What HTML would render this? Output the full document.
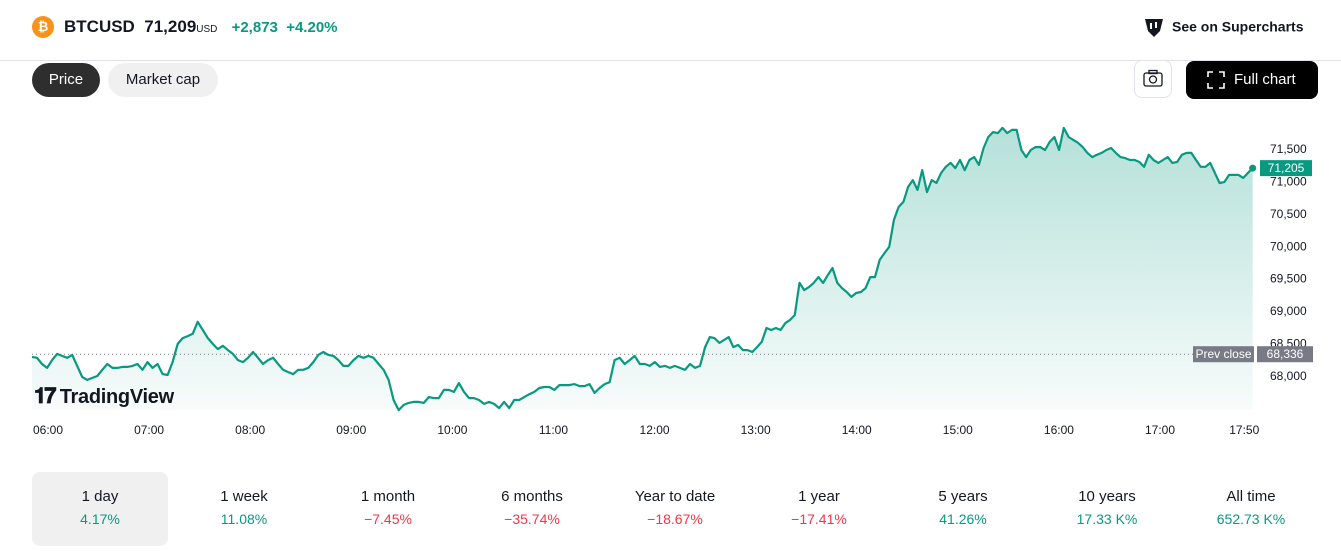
<!DOCTYPE html>
<html><head><meta charset="utf-8"><style>
body{margin:0;width:1341px;height:560px;background:#fff;font-family:"Liberation Sans",sans-serif;color:#131722;overflow:hidden;position:relative}
.a{position:absolute}
.tab{position:absolute;top:472px;width:136px;height:74px;border-radius:8px;text-align:center}
.tab .l{margin-top:16px;font-size:15px;color:#131722}
.tab .v{margin-top:6px;font-size:14px}
.g{color:#089981}.r{color:#f23645}
</style></head><body>
<div class="a" style="left:32px;top:16px;width:22px;height:22px;border-radius:50%;background:#f7931a;color:#fff;font-weight:bold;font-size:13px;text-align:center;line-height:22px">₿</div>
<div class="a" style="left:64px;top:17px;font-size:17px;font-weight:bold;white-space:nowrap">BTCUSD&nbsp; 71,209<span style="font-size:10px;font-weight:normal">USD</span>&nbsp;&nbsp; <span class="g" style="font-size:15px">+2,873&nbsp; +4.20%</span></div>
<div class="a" style="left:1142px;top:17px;font-size:14px;font-weight:bold;white-space:nowrap"><svg width="24" height="22" viewBox="0 0 24 22" style="vertical-align:middle;margin-right:6px"><path d="M3 2h18l-3 12-6 6-6-6z" fill="#131722"/><rect x="8" y="6" width="2" height="6" fill="#fff"/><rect x="13" y="5" width="2" height="6" fill="#fff"/></svg>See on Supercharts</div>
<div class="a" style="left:0;top:60px;width:1341px;height:1px;background:#e0e3eb"></div>
<div class="a" style="left:32px;top:63px;width:68px;height:34px;border-radius:17px;background:#2e2e2e;color:#fff;font-size:15px;text-align:center;line-height:34px">Price</div>
<div class="a" style="left:108px;top:63px;width:110px;height:34px;border-radius:17px;background:#f0f0f0;font-size:15px;text-align:center;line-height:34px">Market cap</div>
<div class="a" style="left:1134px;top:60px;width:38px;height:38px;border:1px solid #e0e3eb;border-radius:8px;box-sizing:border-box"><svg width="36" height="36" viewBox="0 0 36 36"><rect x="9" y="12" width="18" height="13" rx="2" fill="none" stroke="#131722" stroke-width="1.3"/><rect x="14" y="9.5" width="8" height="3" fill="none" stroke="#131722" stroke-width="1.3"/><circle cx="18" cy="18.5" r="3.5" fill="none" stroke="#131722" stroke-width="1.3"/></svg></div>
<div class="a" style="left:1186px;top:61px;width:132px;height:38px;border-radius:8px;background:#000;color:#fff;font-size:15px;line-height:38px;white-space:nowrap"><svg width="20" height="20" viewBox="0 0 20 20" style="vertical-align:middle;margin:0 8px 0 20px"><path d="M2 7V2h5M13 2h5v5M18 13v5h-5M7 18H2v-5" fill="none" stroke="#fff" stroke-width="1.6"/></svg>Full chart</div>

<svg id="chart" class="a" style="left:0;top:100px" width="1341" height="345">
<defs><linearGradient id="fg" x1="0" y1="0" x2="0" y2="1"><stop offset="0" stop-color="#089981" stop-opacity="0.3"/><stop offset="1" stop-color="#089981" stop-opacity="0.03"/></linearGradient></defs>
</svg>
<div class="a" style="left:34px;top:383px;font-size:20px;font-weight:bold;white-space:nowrap;letter-spacing:-0.3px"><span style="font-size:22px;letter-spacing:-2px">𝟏𝟕</span> TradingView</div>

<div class="tab" style="left:32px;background:#f0f0f0"><div class="l">1 day</div><div class="v g">4.17%</div></div>
<div class="tab" style="left:176px"><div class="l">1 week</div><div class="v g">11.08%</div></div>
<div class="tab" style="left:320px"><div class="l">1 month</div><div class="v r">−7.45%</div></div>
<div class="tab" style="left:464px"><div class="l">6 months</div><div class="v r">−35.74%</div></div>
<div class="tab" style="left:607px"><div class="l">Year to date</div><div class="v r">−18.67%</div></div>
<div class="tab" style="left:751px"><div class="l">1 year</div><div class="v r">−17.41%</div></div>
<div class="tab" style="left:895px"><div class="l">5 years</div><div class="v g">41.26%</div></div>
<div class="tab" style="left:1039px"><div class="l">10 years</div><div class="v g">17.33 K%</div></div>
<div class="tab" style="left:1183px"><div class="l">All time</div><div class="v g">652.73 K%</div></div>

<script>
// morning segment 05:50 -> 12:27, afternoon segment 12:30 -> 17:55 (uniform sampling within each)
const pricesAM=[68295,68280,68185,68125,68245,68340,68310,68280,68325,68155,67985,67940,67970,68000,68095,68185,68125,68125,68140,68140,68155,68185,68095,68215,68125,68185,68030,68015,68215,68495,68585,68615,68650,68835,68710,68585,68495,68415,68465,68400,68340,68245,68215,68280,68370,68280,68185,68245,68280,68185,68095,68060,68030,68095,68095,68125,68215,68325,68370,68325,68310,68245,68155,68155,68245,68310,68280,68310,68280,68185,68095,67940,67630,67475,67555,67585,67600,67600,67585,67675,67660,67660,67785,67785,67755,67890,67755,67660,67660,67630,67570,67600,67570,67505,67600,67505,67630,67630,67675,67720,67755,67815,67830,67830,67785,67860,67860,67860,67875,67845,67845,67875,67740,67815,67875,67905,68245,68280,68185,68245,68310,68185,68185,68155,68215,68140,68155,68125,68155,68125,68095,68185,68125,68155];
const pricesPM=[68445,68600,68585,68510,68555,68600,68445,68480,68400,68400,68370,68445,68525,68740,68710,68740,68710,68815,68865,68940,69435,69325,69370,69435,69525,69435,69555,69665,69435,69355,69295,69220,69280,69295,69355,69525,69525,69790,69895,69990,70405,70605,70685,70915,71020,70870,71175,70835,71020,70975,71130,71225,71285,71205,71330,71175,71330,71375,71255,71515,71685,71760,71745,71825,71745,71795,71795,71485,71375,71485,71530,71530,71485,71610,71685,71485,71825,71685,71640,71595,71530,71440,71375,71410,71440,71485,71515,71440,71375,71360,71330,71330,71300,71225,71410,71330,71285,71330,71375,71285,71300,71410,71440,71440,71330,71225,71225,71285,71130,70975,70990,71100,71100,71100,71055,71130,71205];
const segAM=[-9.5,387], segPM=[390,715]; // minutes from 06:00
const yTicks=[68000,68500,69000,69500,70000,70500,71000,71500];
const xTickLabels=["06:00","07:00","08:00","09:00","10:00","11:00","12:00","13:00","14:00","15:00","16:00","17:00","17:50"];
const xTickMins=[0,60,120,180,240,300,360,420,480,540,600,660,710];
const prevClose=68336, lastPrice=71205;

const svg=document.getElementById('chart'),NS='http://www.w3.org/2000/svg',OY=100;
const X=m=>48+(m)*(1112/660);
const Y=p=>376-OY-(p-68000)*(227/3500);
function el(t,a){const e=document.createElementNS(NS,t);for(const k in a)e.setAttribute(k,a[k]);svg.appendChild(e);return e;}
const bottom=410-OY;
function seg(arr,s){return arr.map((p,i)=>[X(s[0]+(s[1]-s[0])*i/(arr.length-1)),Y(p)]);}
const pts=seg(pricesAM,segAM).concat(seg(pricesPM,segPM));
const n=pts.length;
let d=pts.map((q,i)=>(i?'L':'M')+q[0].toFixed(1)+' '+q[1].toFixed(1)).join('');
const area=el('path',{d:d+`L${pts[n-1][0]} ${bottom}L${pts[0][0]} ${bottom}Z`,fill:'url(#fg)'});


const pc=el('line',{x1:32,x2:1193,y1:Y(prevClose),y2:Y(prevClose),stroke:'#787b86','stroke-dasharray':'1 3','stroke-width':1});


const line=el('path',{d:d,fill:'none',stroke:'#089981','stroke-width':2.2,'stroke-linejoin':'round'});


const dot=el('circle',{cx:pts[n-1][0],cy:pts[n-1][1],r:3.5,fill:'#089981'});


yTicks.forEach(v=>{const t=el('text',{x:1270,y:Y(v)+4,'font-size':12,fill:'#131722','font-family':'Liberation Sans'});t.textContent=v.toLocaleString('en-US');

});
xTickLabels.forEach((s,i)=>{const t=el('text',{x:X(xTickMins[i]),y:434-OY,'font-size':12,fill:'#131722','text-anchor':'middle','font-family':'Liberation Sans'});t.textContent=s;

});
function tag(x,y,w,fill,txt,name){const g=el('g',{});
const r=document.createElementNS(NS,'rect');r.setAttribute('x',x);r.setAttribute('y',y-8);r.setAttribute('width',w);r.setAttribute('height',16);r.setAttribute('fill',fill);g.appendChild(r);
const t=document.createElementNS(NS,'text');t.setAttribute('x',x+w/2);t.setAttribute('y',y+4);t.setAttribute('font-size',12);t.setAttribute('fill','#fff');t.setAttribute('text-anchor','middle');t.setAttribute('font-family','Liberation Sans');t.textContent=txt;g.appendChild(t);}
tag(1193,Y(prevClose),61,'#787b86','Prev close','prev-close-label');
tag(1257,Y(prevClose),56,'#787b86',prevClose.toLocaleString('en-US'),'prev-close-price-tag');
tag(1260,Y(lastPrice),52,'#089981',lastPrice.toLocaleString('en-US'),'last-price-tag');
</script>
</body></html>
